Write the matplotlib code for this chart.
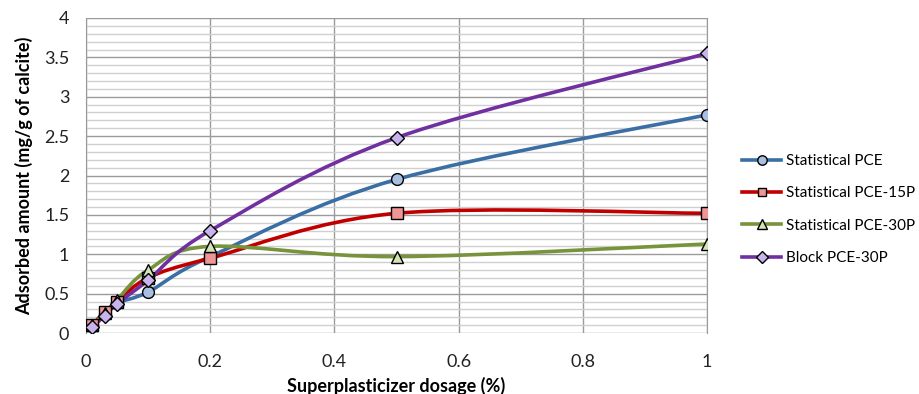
import numpy as np
import matplotlib
matplotlib.use('Agg')
import matplotlib.pyplot as plt
from matplotlib.path import Path
from matplotlib.patches import PathPatch
from matplotlib.lines import Line2D

plt.rcParams['font.family'] = ['Lato', 'DejaVu Sans']

# superplasticizer dosage (%)
dosage = [0.01, 0.03, 0.05, 0.1, 0.2, 0.5, 1.0]

# adsorbed amount (mg/g of calcite)
stat_pce = [0.10, 0.24, 0.38, 0.52, 0.97, 1.95, 2.77]
stat_pce_15p = [0.10, 0.27, 0.40, 0.70, 0.95, 1.52, 1.52]
stat_pce_30p = [0.10, 0.25, 0.42, 0.80, 1.10, 0.97, 1.13]
block_pce_30p = [0.07, 0.22, 0.37, 0.67, 1.30, 2.48, 3.55]

labels = ['Statistical PCE', 'Statistical PCE-15P', 'Statistical PCE-30P', 'Block PCE-30P']
line_colors = ['#3b6ea5', '#c00000', '#77933c', '#7030a0']
face_colors = ['#a7bfe0', '#f09595', '#d3e3b8', '#c8b4ec']
markers = ['o', 's', '^', 'D']
msizes = [8.5, 8, 9, 7.5]


# Excel-like smoothed line: cubic bezier segments through the data points
def smooth_path(xs, ys):
    pts = np.column_stack([xs, ys])
    n = len(pts)
    verts = [pts[0]]
    codes = [Path.MOVETO]
    for i in range(n - 1):
        p_prev = pts[i - 1] if i > 0 else pts[i]
        p_next2 = pts[i + 2] if i + 2 < n else pts[i + 1]
        c1 = pts[i] + (pts[i + 1] - p_prev) / 6.0
        c2 = pts[i + 1] - (p_next2 - pts[i]) / 6.0
        verts += [c1, c2, pts[i + 1]]
        codes += [Path.CURVE4] * 3
    return Path(verts, codes)


fig = plt.figure(figsize=(9.19, 3.94), dpi=100)
ax = fig.add_axes([86 / 919, 1 - 333 / 394, (707 - 86) / 919, (333 - 18) / 394])

series = [stat_pce, stat_pce_15p, stat_pce_30p, block_pce_30p]
handles = []
for ys, lab, lc, fc, m, ms in zip(series, labels, line_colors, face_colors, markers, msizes):
    patch = PathPatch(smooth_path(dosage, ys), fill=False, edgecolor=lc, lw=2.6, zorder=3, capstyle='round')
    ax.add_patch(patch)
    handles.append(Line2D([], [], color=lc, lw=2.6, marker=m, ms=ms * 0.8,
                          mfc=fc, mec='black', mew=1.0, label=lab))

for ys, fc, m, ms in zip(series, face_colors, markers, msizes):
    ax.plot(dosage, ys, ls='none', marker=m, ms=ms, mfc=fc, mec='black', mew=1.0, zorder=4)

ax.set_xlim(0, 1)
ax.set_ylim(0, 4)
ax.set_xticks(np.arange(0, 1.01, 0.2))
ax.set_xticklabels(['0', '0.2', '0.4', '0.6', '0.8', '1'])
ax.set_yticks(np.arange(0, 4.01, 0.5))
ax.set_yticklabels(['0', '0.5', '1', '1.5', '2', '2.5', '3', '3.5', '4'])
ax.set_yticks(np.arange(0, 4.01, 0.1), minor=True)
ax.tick_params(axis='both', which='both', length=0, labelsize=13, colors='#222222')
ax.tick_params(axis='x', pad=15)
ax.tick_params(axis='y', pad=12)

ax.grid(True, which='minor', axis='y', color='#d0d0d0', lw=1.0)
ax.grid(True, which='major', axis='y', color='#9a9a9a', lw=1.0)
ax.grid(True, which='major', axis='x', color='#9a9a9a', lw=1.0)
ax.set_axisbelow(True)
for side in ['top', 'bottom']:
    ax.spines[side].set_visible(False)
ax.spines['left'].set_color('#9a9a9a')
ax.spines['right'].set_color('#9a9a9a')

ax.set_xlabel('Superplasticizer dosage (%)', fontsize=13, fontweight='bold', labelpad=5)
ax.set_ylabel('Adsorbed amount (mg/g of calcite)', fontsize=13, fontweight='bold', labelpad=8)

ax.legend(handles=handles, loc='center left', bbox_to_anchor=(1.056, 0.392), frameon=False,
          fontsize=11, handlelength=2.6, handletextpad=0.3, labelspacing=1.2,
          borderaxespad=0, borderpad=0)

fig.savefig('out.png', dpi=100)
